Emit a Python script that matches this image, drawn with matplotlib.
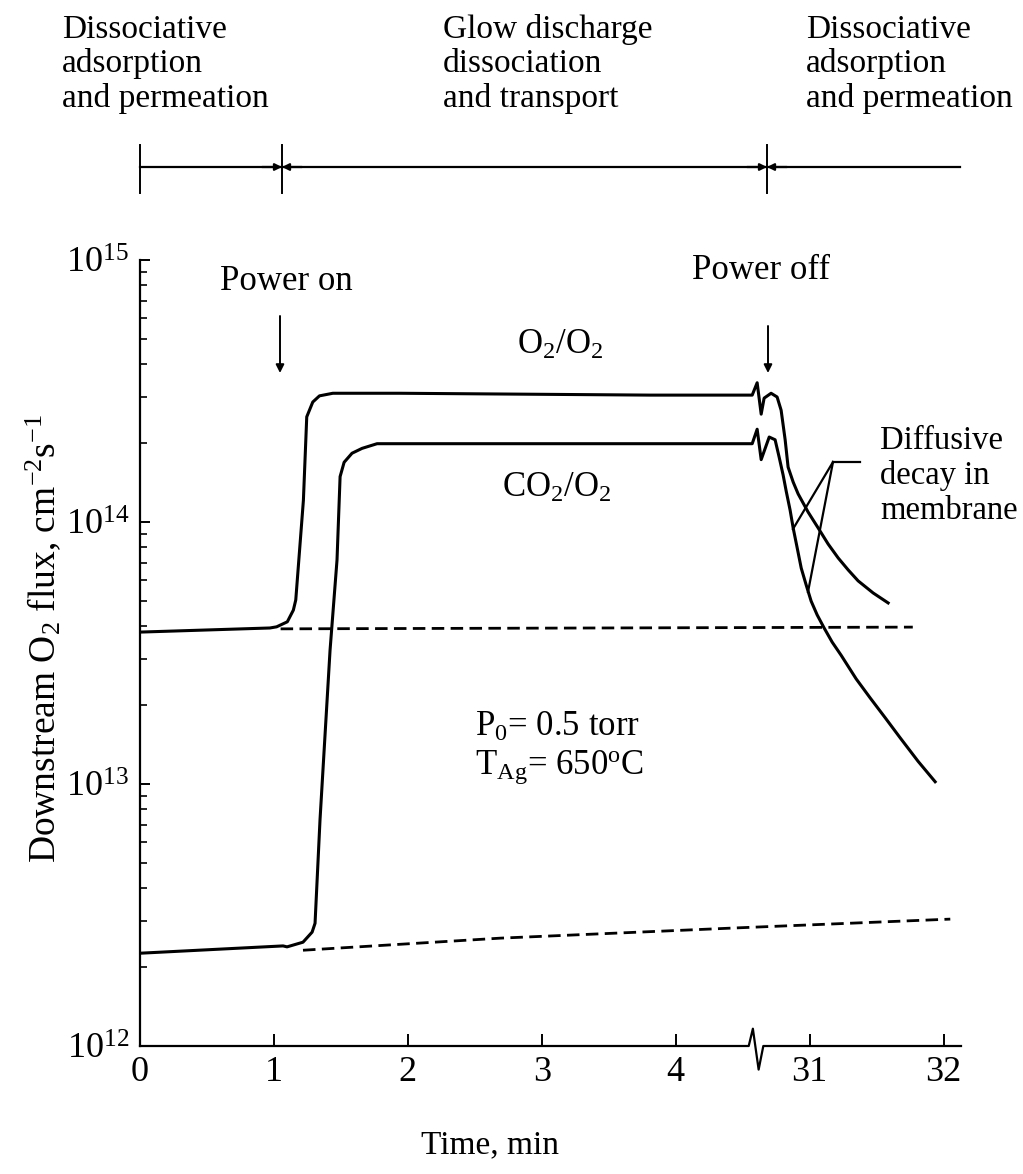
import numpy as np
import matplotlib
matplotlib.use("Agg")
import matplotlib.pyplot as plt
from matplotlib.lines import Line2D
from matplotlib.transforms import blended_transform_factory
from matplotlib.ticker import LogLocator, NullFormatter

W, H = 1023, 1174

# ---- data (time in min, flux in cm^-2 s^-1) ----
# axis is broken between ~4.6 and ~30.6 min
o2_t = [0.0, 0.97, 1.02, 1.10, 1.145, 1.163, 1.22, 1.245, 1.29, 1.34, 1.44, 1.94, 3.81, 4.571, 4.608,
        30.638, 30.660, 30.712, 30.757, 30.787, 30.817, 30.839, 30.877, 30.914, 30.989, 31.064,
        31.138, 31.213, 31.288, 31.362, 31.474, 31.586]
o2_flux = [3.80e13, 3.94e13, 3.98e13, 4.16e13, 4.61e13, 5.04e13, 1.21e14, 2.52e14, 2.87e14, 3.03e14,
           3.10e14, 3.10e14, 3.05e14, 3.05e14, 3.40e14,
           2.58e14, 2.97e14, 3.10e14, 3.00e14, 2.67e14, 2.06e14, 1.62e14, 1.42e14, 1.28e14, 1.09e14,
           9.48e13, 8.24e13, 7.29e13, 6.56e13, 5.96e13, 5.36e13, 4.91e13]

co2_t = [0.0, 1.068, 1.098, 1.217, 1.285, 1.307, 1.344, 1.419, 1.471, 1.494, 1.524, 1.583, 1.658, 1.770,
         3.81, 4.571, 4.608,
         30.638, 30.698, 30.742, 30.772, 30.802, 30.825, 30.854, 30.877, 30.907, 30.937, 30.974,
         31.011, 31.056, 31.108, 31.168, 31.235, 31.347, 31.452, 31.564, 31.676, 31.810, 31.937]
co2_flux = [2.26e12, 2.41e12, 2.39e12, 2.49e12, 2.72e12, 2.94e12, 7.29e12, 3.24e13, 7.16e13, 1.49e14,
            1.69e14, 1.83e14, 1.91e14, 1.99e14, 1.99e14, 1.99e14, 2.26e14,
            1.73e14, 2.11e14, 2.06e14, 1.77e14, 1.51e14, 1.31e14, 1.11e14, 9.48e13, 7.96e13, 6.67e13,
            5.75e13, 4.99e13, 4.42e13, 3.94e13, 3.48e13, 3.10e13, 2.52e13, 2.13e13, 1.79e13, 1.50e13,
            1.22e13, 1.02e13]

# extrapolated baselines (dashed)
o2_base_t = [1.05, 31.77]
o2_base_flux = [3.91e13, 3.97e13]
co2_base_t = [1.217, 2.689, 4.429, 32.05]
co2_base_flux = [2.32e12, 2.58e12, 2.82e12, 3.05e12]

xtick_pos = [0, 1, 2, 3, 4, 5, 6]
xtick_labels = ["0", "1", "2", "3", "4", "31", "32"]

BREAK_SHIFT = 26.0


def to_axis(t):
    t = np.asarray(t, dtype=float)
    return np.where(t > 10, t - BREAK_SHIFT, t)


def fx(x):
    return x / W


def fy(y):
    return 1 - y / H


plt.rcParams["font.family"] = ["Liberation Serif", "DejaVu Serif"]
plt.rcParams["mathtext.fontset"] = "custom"
plt.rcParams["mathtext.rm"] = "Liberation Serif"
plt.rcParams["mathtext.it"] = "Liberation Serif:italic"
plt.rcParams["mathtext.bf"] = "Liberation Serif:bold"
plt.rcParams["font.size"] = 25

fig = plt.figure(figsize=(W / 100, H / 100), dpi=100)
ax = fig.add_axes([fx(140), fy(1046), (961 - 140) / W, (1046 - 260) / H])
ax.set_yscale("log")
ax.set_ylim(1e12, 1e15)
ax.set_xlim(0, 6.13)

lw = 2.2
ax.plot(to_axis(o2_t), o2_flux, color="k", lw=lw, solid_joinstyle="round")
ax.plot(to_axis(co2_t), co2_flux, color="k", lw=lw, solid_joinstyle="round")
dash = (0, (4.5, 2.3))
ax.plot(to_axis(o2_base_t), o2_base_flux, color="k", lw=2.0, linestyle=dash)
ax.plot(to_axis(co2_base_t), co2_base_flux, color="k", lw=2.0, linestyle=dash)

for s in ["top", "right", "bottom"]:
    ax.spines[s].set_visible(False)
ax.spines["left"].set_linewidth(1.6)

# broken x axis line
trans = blended_transform_factory(ax.transData, ax.transAxes)
ax.plot([0, 4.545, 4.576, 4.619, 4.654, 6.13], [0, 0, 0.022, -0.03, 0, 0],
        transform=trans, clip_on=False, color="k", lw=1.6)

ax.yaxis.set_major_locator(LogLocator(base=10, numticks=10))
ax.yaxis.set_minor_locator(LogLocator(base=10, subs=np.arange(2, 10), numticks=20))
ax.yaxis.set_minor_formatter(NullFormatter())
ax.tick_params(axis="y", which="major", direction="in", length=7, width=1.4, labelsize=26, pad=8)
ax.tick_params(axis="y", which="minor", direction="in", length=5, width=1.2)
ax.set_xticks(xtick_pos)
ax.set_xticklabels(xtick_labels)
ax.tick_params(axis="x", direction="in", length=9, width=1.4, labelsize=26, pad=7)

# axis labels
fig.text(fx(43), fy(638), r"Downstream O$_2$ flux, cm$^{-2}$s$^{-1}$", rotation=90,
         ha="center", va="center", fontsize=27)
fig.text(fx(490), fy(1145), "Time, min", ha="center", va="center", fontsize=24)

# phase band on top
band_y = fy(167)
hd = dict(arrowstyle="-|>", mutation_scale=10, lw=1.6, color="k", shrinkA=0, shrinkB=0)
fig.add_artist(Line2D([fx(140), fx(282)], [band_y, band_y], color="k", lw=1.6))
fig.add_artist(Line2D([fx(282), fx(767)], [band_y, band_y], color="k", lw=1.6))
fig.add_artist(Line2D([fx(767), fx(960)], [band_y, band_y], color="k", lw=1.6))
for bx in [140, 282, 767]:
    fig.add_artist(Line2D([fx(bx), fx(bx)], [fy(145), fy(193)], color="k", lw=1.4))
for a, b in [(262, 282), (302, 282), (747, 767), (787, 767)]:
    ax.annotate("", xy=(fx(b), band_y), xytext=(fx(a), band_y),
                xycoords="figure fraction", textcoords="figure fraction", arrowprops=hd)

top_kw = dict(ha="left", va="top", linespacing=1.16, fontsize=24)
fig.text(fx(62), fy(14), "Dissociative\nadsorption\nand permeation", **top_kw)
fig.text(fx(443), fy(14), "Glow discharge\ndissociation\nand transport", **top_kw)
fig.text(fx(806), fy(14), "Dissociative\nadsorption\nand permeation", **top_kw)

# annotations
fig.text(fx(286), fy(281), "Power on", ha="center", va="center")
fig.text(fx(761), fy(270), "Power off", ha="center", va="center")
ad = dict(arrowstyle="-|>", mutation_scale=12, lw=1.4, color="k", shrinkA=0, shrinkB=0)
ax.annotate("", xy=(fx(280), fy(373)), xytext=(fx(280), fy(316)),
            xycoords="figure fraction", textcoords="figure fraction", arrowprops=ad)
ax.annotate("", xy=(fx(768), fy(373)), xytext=(fx(768), fy(326)),
            xycoords="figure fraction", textcoords="figure fraction", arrowprops=ad)

fig.text(fx(560), fy(345), r"O$_2$/O$_2$", ha="center", va="center")
fig.text(fx(557), fy(488), r"CO$_2$/O$_2$", ha="center", va="center")
fig.text(fx(475), fy(727), r"P$_0$= 0.5 torr", ha="left", va="center")
fig.text(fx(475), fy(767), r"T$_{\mathrm{Ag}}$= 650$^{\mathrm{o}}$C", ha="left", va="center")

fig.text(fx(880), fy(426), "Diffusive\ndecay in\nmembrane", ha="left", va="top",
         linespacing=1.16, fontsize=23.5)
for (x0, y0), (x1, y1) in [((860, 462), (833, 462)), ((833, 462), (793, 529)), ((833, 462), (808, 592))]:
    fig.add_artist(Line2D([fx(x0), fx(x1)], [fy(y0), fy(y1)], color="k", lw=1.6))

fig.savefig("out.png", dpi=100)
